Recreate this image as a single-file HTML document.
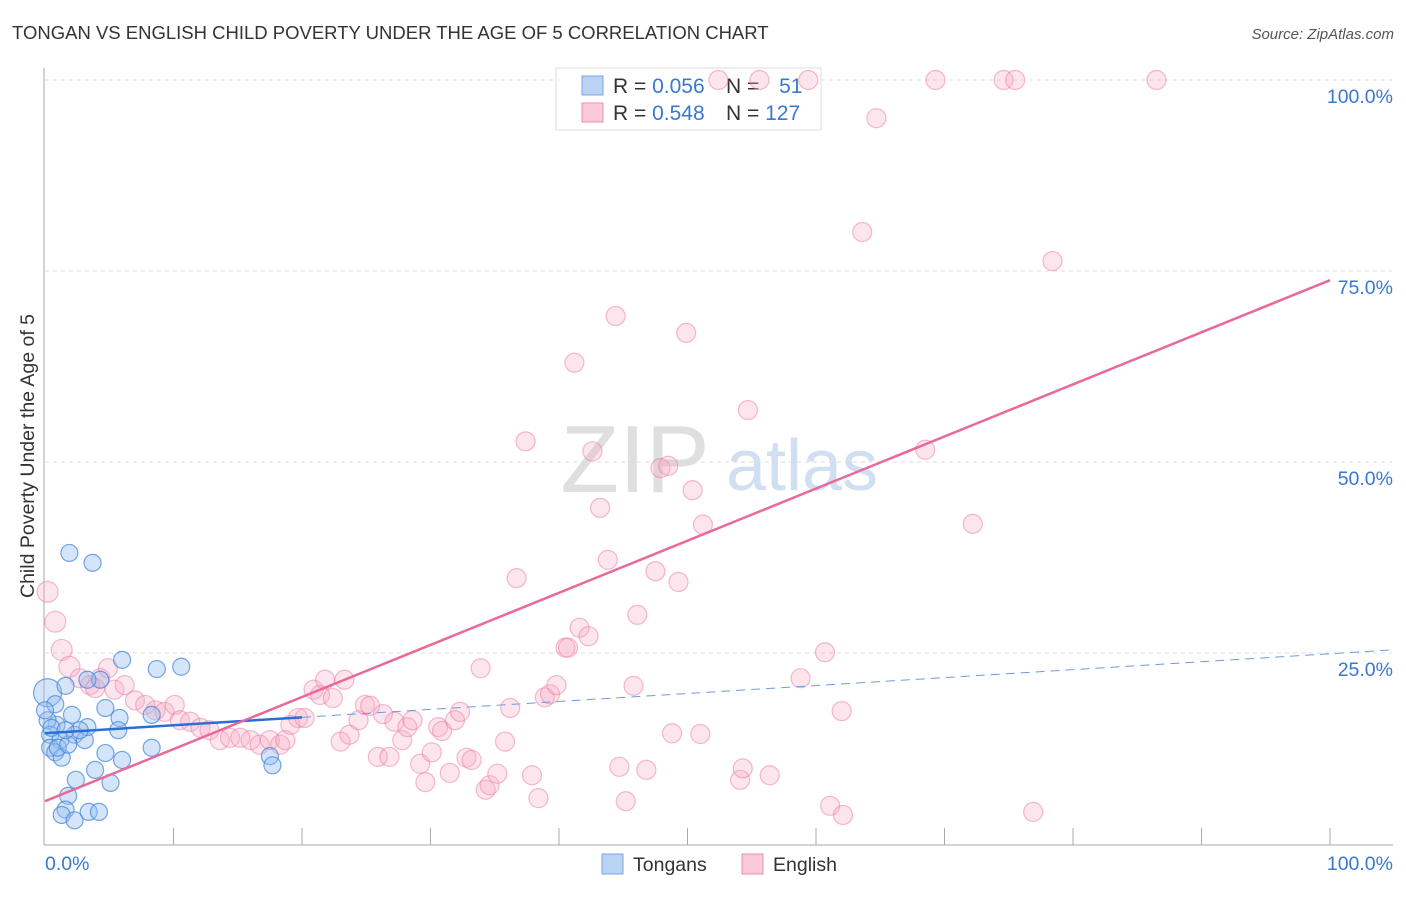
<!DOCTYPE html>
<html><head><meta charset="utf-8"><style>
body{margin:0;background:#fff;font-family:"Liberation Sans",sans-serif;}
svg text{font-family:"Liberation Sans",sans-serif;}
</style></head><body>
<svg width="1406" height="892" xmlns="http://www.w3.org/2000/svg">
<text x="12" y="39" font-size="18.5" fill="#333">TONGAN VS ENGLISH CHILD POVERTY UNDER THE AGE OF 5 CORRELATION CHART</text>
<text x="1394" y="39" font-size="15" fill="#555" text-anchor="end" font-style="italic">Source: ZipAtlas.com</text>
<text x="0" y="0" font-size="19.5" fill="#333" text-anchor="middle" transform="translate(34,456) rotate(-90)">Child Poverty Under the Age of 5</text>
<g><text x="635" y="492" font-size="96" fill="#d8d8d8" font-family="Liberation Serif" text-anchor="middle" opacity="0.8">ZIP</text><text x="802" y="490" font-size="72" fill="#c5d8ee" text-anchor="middle" opacity="0.8">atlas</text></g>
<g id="grid"></g><g id="axes"></g>
<g>
<rect x="556" y="68" width="265" height="62" fill="#fff" fill-opacity="0.85" stroke="#ddd"/>
<rect x="582" y="76" width="21" height="19" fill="#b9d3f3" stroke="#7aa6e0"/>
<rect x="582" y="103" width="21" height="19" fill="#fcc9d8" stroke="#ec90ad"/>
<text x="613" y="93" font-size="21" fill="#333">R = <tspan fill="#3a78d0">0.056</tspan></text>
<text x="726" y="93" font-size="21" fill="#333">N = <tspan fill="#3a78d0" dx="14">51</tspan></text>
<text x="613" y="120" font-size="21" fill="#333">R = <tspan fill="#3a78d0">0.548</tspan></text>
<text x="726" y="120" font-size="21" fill="#333">N = <tspan fill="#3a78d0">127</tspan></text>
</g>
<g id="pts"></g><g id="lines"></g>
<g>
<rect x="602" y="854" width="21" height="20" fill="#b9d3f3" stroke="#7aa6e0"/>
<text x="633" y="871" font-size="19.5" fill="#333">Tongans</text>
<rect x="742" y="854" width="21" height="20" fill="#fcc9d8" stroke="#ec90ad"/>
<text x="773" y="871" font-size="19.5" fill="#333">English</text>
</g>
</svg>
<script>
const yTicks=[25,50,75,100];
const yTickLabels=["25.0%","50.0%","75.0%","100.0%"];
const xTickCount=10;
const blueX=[1.9,3.7,6.0,8.7,10.6,0.2,0.8,1.6,4.7,5.8,8.3,4.3,3.3,2.1,0.9,0.2,0.4,1.2,2.3,3.1,0.4,0.8,1.3,1.0,1.8,3.3,5.7,6.0,8.3,4.7,3.9,2.4,5.1,1.8,1.6,1.3,2.3,3.4,4.2,17.5,17.7,0,0.5,2.7,1.6];
const blueY=[38.1,36.8,24.1,22.9,23.2,19.8,18.3,20.7,17.8,16.5,16.9,21.5,21.5,16.9,15.6,16.2,14.3,13.6,14.3,13.6,12.6,12.0,11.3,12.6,13.0,15.3,14.9,11.0,12.6,11.9,9.7,8.4,8.0,6.3,4.5,3.8,3.1,4.2,4.2,11.5,10.3,17.5,15.2,14.9,14.9];
const pinkX=[0.2,0.8,1.3,1.9,2.7,3.5,4.3,4.9,3.9,5.4,6.2,7.0,7.8,8.6,9.3,10.1,10.5,11.3,12.1,12.8,13.6,14.4,15.2,16.0,16.7,17.5,18.3,18.7,19.1,19.7,20.2,20.9,21.4,21.8,22.4,23.3,23.0,23.7,24.4,24.9,25.3,25.9,26.3,26.8,27.2,27.8,28.2,28.6,29.2,29.6,30.1,30.6,30.9,31.5,31.9,32.3,32.8,33.2,33.9,34.3,34.6,35.2,35.8,36.2,36.7,37.4,37.9,38.4,38.9,39.3,39.8,40.5,40.7,41.2,41.6,42.3,42.6,43.2,43.8,44.4,44.7,45.2,45.8,46.1,46.8,47.5,47.9,48.5,48.8,49.3,49.9,50.4,51.0,51.2,52.4,54.7,54.1,54.3,55.6,56.4,58.8,59.4,60.7,61.1,62.1,62.0,63.6,64.7,68.5,69.3,72.2,74.6,75.5,76.9,78.4,86.5];
const pinkY=[33.0,29.1,25.4,23.2,21.7,20.8,21.7,23.0,20.4,20.2,20.8,18.8,18.2,17.5,17.3,18.2,16.2,16.0,15.2,14.9,13.6,13.9,13.9,13.6,13.0,13.6,13.0,13.6,15.6,16.5,16.5,20.2,19.5,21.5,19.1,21.5,13.4,14.3,16.2,18.2,18.1,11.4,17.0,11.4,16.0,13.6,15.3,16.2,10.5,8.1,12.0,15.3,14.8,9.3,16.2,17.3,11.3,11.0,23.0,7.1,7.7,9.2,13.4,17.8,34.8,52.7,9.0,6.0,19.2,19.6,20.8,25.7,25.7,63.0,28.3,27.2,51.4,44.0,37.2,69.1,10.1,5.6,20.7,30.0,9.7,35.7,49.2,49.5,14.5,34.3,66.9,46.3,14.4,41.8,100,56.8,8.4,9.9,100,9.0,21.7,100,25.1,5.0,3.8,17.4,80.1,95.0,51.6,100,41.9,100,100,4.2,76.3,100];
const blueLine=[14.5,24.9];
const pinkLine=[5.6,73.8];
const X0=45,X1=1330,Y0=844,Y1=80;
const sx=v=>X0+(X1-X0)*v/100, sy=v=>Y0-(Y0-Y1)*v/100;
const NS="http://www.w3.org/2000/svg";
function mk(t,a,p){const e=document.createElementNS(NS,t);for(const k in a)e.setAttribute(k,a[k]);p.appendChild(e);return e;}
const grid=document.getElementById('grid'),axes=document.getElementById('axes'),pts=document.getElementById('pts'),lines=document.getElementById('lines');
yTicks.forEach((v,i)=>{
 const l=mk('line',{x1:X0,x2:1392,y1:sy(v),y2:sy(v),stroke:'#ddd','stroke-dasharray':'4,4'},grid);
 
 
 const t=mk('text',{x:1393,y:sy(v)+23,'font-size':19.5,fill:'#3a78d0','text-anchor':'end'},grid);
 t.textContent=yTickLabels[i];
 
 
});
const ya=mk('line',{x1:44,x2:44,y1:68,y2:845,stroke:'#aaa'},axes);


const xa=mk('line',{x1:44,x2:1393,y1:845,y2:845,stroke:'#aaa'},axes);


for(let i=1;i<=xTickCount;i++){const x=sx(i*100/xTickCount);const t=mk('line',{x1:x,x2:x,y1:828,y2:845,stroke:'#aaa'},axes);
 
 }
[["0.0%",45,'start'],["100.0%",1393,'end']].forEach(d=>{const t=mk('text',{x:d[1],y:870,'font-size':19.5,fill:'#3a78d0','text-anchor':d[2]},axes);t.textContent=d[0];
 
 });
pinkX.forEach((x,i)=>{const c=mk('circle',{cx:sx(x),cy:sy(pinkY[i]),r:x<2?10.5:9.5,fill:'rgba(249,170,195,0.3)',stroke:'rgba(235,120,158,0.5)','stroke-width':1.2},pts);
 
 });
blueX.forEach((x,i)=>{const c=mk('circle',{cx:sx(x),cy:sy(blueY[i]),r:i==5?14:8.5,fill:'rgba(150,190,240,0.4)',stroke:'rgba(60,130,220,0.7)','stroke-width':1.2},pts);
 
 });
const bl=v=>blueLine[0]+(blueLine[1]-blueLine[0])*v/100;
let e=mk('line',{x1:sx(0),y1:sy(bl(0)),x2:sx(20),y2:sy(bl(20)),stroke:'#2a6fd6','stroke-width':2.5},lines);


e=mk('line',{x1:sx(20),y1:sy(bl(20)),x2:1393,y2:sy(bl(104.9)),stroke:'#6d9be0','stroke-width':1,'stroke-dasharray':'9,6'},lines);


e=mk('line',{x1:sx(0),y1:sy(pinkLine[0]),x2:sx(100),y2:sy(pinkLine[1]),stroke:'#e8699a','stroke-width':2.5},lines);


</script>
</body></html>
